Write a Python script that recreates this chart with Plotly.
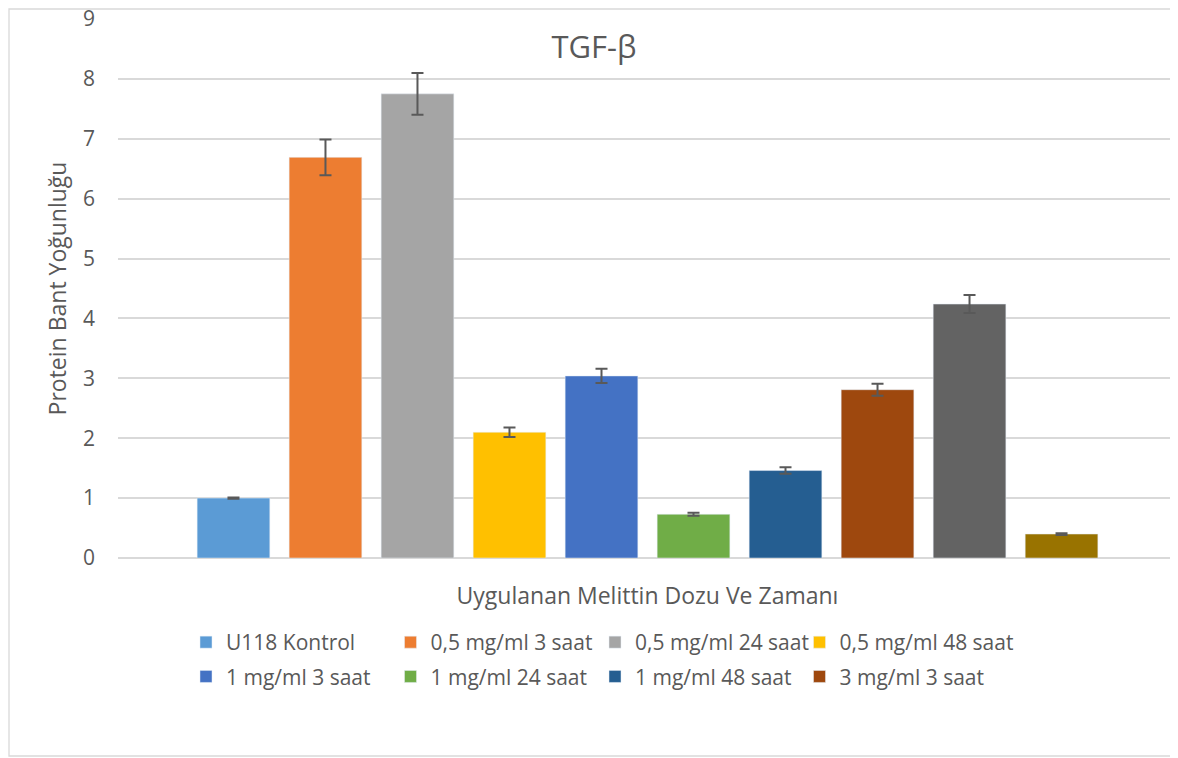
import plotly.graph_objects as go

groups = [
    "U118 Kontrol", "0,5 mg/ml 3 saat", "0,5 mg/ml 24 saat", "0,5 mg/ml 48 saat",
    "1 mg/ml 3 saat", "1 mg/ml 24 saat", "1 mg/ml 48 saat", "3 mg/ml 3 saat",
    "3 mg/ml 24 saat", "3 mg/ml 48 saat",
]
values = [1.00, 6.69, 7.75, 2.10, 3.04, 0.73, 1.46, 2.81, 4.24, 0.40]
errors = [0.01, 0.30, 0.35, 0.08, 0.12, 0.025, 0.055, 0.10, 0.15, 0.015]
colors = ["#5B9BD5", "#ED7D31", "#A5A5A5", "#FFC000", "#4472C4",
          "#70AD47", "#255E91", "#9E480E", "#636363", "#997300"]
# Excel legend: 4 columns x 2 rows, last two series not shown
legend_col = [0, 1, 2, 3, 0, 1, 2, 3, None, None]

# page body has an 8px margin, so everything is laid out 8px up/left
OFF = 8
W, H = 1178 - OFF, 758 - OFF
L, R, T, B = 118 - OFF, 1, 19 - OFF, 758 - 558
TXT = "#595959"
FONT = "Open Sans"

def px_x(p):
    return (p - OFF - L) / (W - L - R)

def px_y(p):
    return (H - B - (p - OFF)) / (H - T - B)

legend_ids = ["legend", "legend2", "legend3", "legend4"]

fig = go.Figure()
for g, v, e, c, col in zip(groups, values, errors, colors, legend_col):
    fig.add_trace(go.Bar(
        x=[g], y=[v], name=g, marker_color=c, width=0.79,
        showlegend=col is not None,
        legend=legend_ids[col] if col is not None else "legend",
        legendgroup=g,
        error_y=dict(type="data", array=[e], color="#595959", thickness=2, width=6),
    ))

col_text_x = [227, 431.5, 636, 840.5]
legends = {}
for lid, tx in zip(legend_ids, col_text_x):
    legends[lid] = dict(orientation="v", x=px_x(tx - 41), xanchor="left",
                        y=px_y(622), yanchor="top", tracegroupgap=4,
                        font=dict(size=21, color=TXT), bgcolor="rgba(0,0,0,0)")

fig.update_layout(
    width=W, height=H,
    margin=dict(l=L, r=R, t=T, b=B, autoexpand=False),
    barmode="overlay",
    plot_bgcolor="white", paper_bgcolor="white",
    font=dict(family=FONT, color=TXT, size=22),
    title=dict(text="TGF-β", x=(594 - OFF) / W, xanchor="center",
               y=1 - (47 - OFF) / H, yanchor="middle",
               font=dict(size=31, color=TXT)),
    shapes=[dict(type="rect", xref="paper", yref="paper",
                 x0=px_x(OFF + 1), x1=px_x(1177), y0=px_y(756), y1=px_y(OFF + 1),
                 line=dict(color="#D9D9D9", width=1.3), layer="below")],
    **legends,
)
fig.update_xaxes(
    type="category", categoryorder="array", categoryarray=groups,
    range=[-1.255, 10.255], showticklabels=False, showgrid=False,
    showline=False, zeroline=False,
    title=dict(text="Uygulanan Melittin Dozu Ve Zamanı", standoff=29,
               font=dict(size=23, color=TXT)),
)
fig.update_yaxes(
    range=[0, 9], dtick=1, showgrid=True, gridcolor="#D9D9D9", gridwidth=1.5,
    zeroline=True, zerolinecolor="#D9D9D9", zerolinewidth=1.5, showline=False,
    ticks="", ticklabelstandoff=22, ticklabeloverflow="allow",
    tickfont=dict(size=21, color=TXT),
    title=dict(text="Protein Bant Yoğunluğu", standoff=9, font=dict(size=23, color=TXT)),
)

fig.write_html("out.html")
